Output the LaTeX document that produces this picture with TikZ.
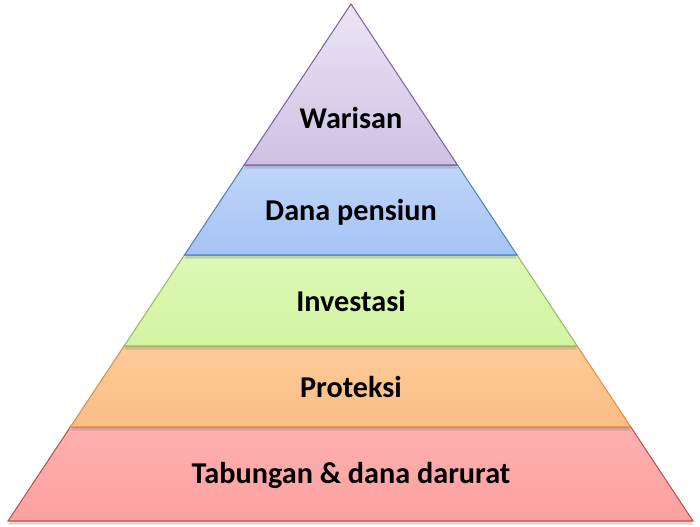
\documentclass[tikz,border=0pt]{standalone}
\usepackage{fontspec}
\setmainfont{Carlito}
\usetikzlibrary{calc, shadows}

\definecolor{warisanTop}{HTML}{EBE5F4}
\definecolor{warisanBot}{HTML}{CEC1E4}
\definecolor{warisanLine}{HTML}{8064A2}
\definecolor{pensiunTop}{HTML}{C0D5FB}
\definecolor{pensiunBot}{HTML}{A5C3F4}
\definecolor{pensiunLine}{HTML}{4F81BD}
\definecolor{investTop}{HTML}{DDF8B6}
\definecolor{investBot}{HTML}{D2F4A2}
\definecolor{proteksiTop}{HTML}{FCCB98}
\definecolor{proteksiBot}{HTML}{FBBD86}
\definecolor{proteksiLine}{HTML}{E98A3A}
\definecolor{tabunganTop}{HTML}{FFB0B0}
\definecolor{tabunganBot}{HTML}{FDA0A0}
\definecolor{tabunganLine}{HTML}{C0504D}
\definecolor{investLine}{HTML}{9BBB59}

\tikzset{
	layer/.style = {line width = 0.6 pt, drop shadow = {shadow xshift = 0 pt, shadow yshift = -2 pt, opacity = 0.3}},
	label/.style = {font = \fontsize{17.2}{20}\selectfont\bfseries, text = black}
}

\begin{document}
\begin{tikzpicture}
	\useasboundingbox (0, 0) rectangle (14, 10.54);
	\coordinate (apex) at (7.02, 10.46);
	\coordinate (baseL) at (0.16, 0.12);
	\coordinate (baseR) at (13.86, 0.12);
	
	% bottom first, so every shadow falls on the layer below
	\foreach \top/\bot/\ctop/\cbot/\cline/\ty/\name/\txt in {
		0.8182/1/tabunganTop/tabunganBot/tabunganLine/1.04/tabungan/{Tabungan \& dana darurat},
		0.6615/0.8182/proteksiTop/proteksiBot/proteksiLine/2.80/proteksi/Proteksi,
		0.4855/0.6615/investTop/investBot/investLine/4.52/investasi/Investasi,
		0.3114/0.4855/pensiunTop/pensiunBot/pensiunLine/6.30/pensiun/Dana pensiun,
		0/0.3114/warisanTop/warisanBot/warisanLine/8.18/warisan/Warisan}
	{
	\path[layer, draw = \cline, top color = \ctop, bottom color = \cbot]
		($(apex)!\top!(baseL)$) -- ($(apex)!\top!(baseR)$) -- ($(apex)!\bot!(baseR)$) -- ($(apex)!\bot!(baseL)$) -- cycle;
	\node[label] (\name) at (7.02, \ty) {\txt};
	}
\end{tikzpicture}
\end{document}
